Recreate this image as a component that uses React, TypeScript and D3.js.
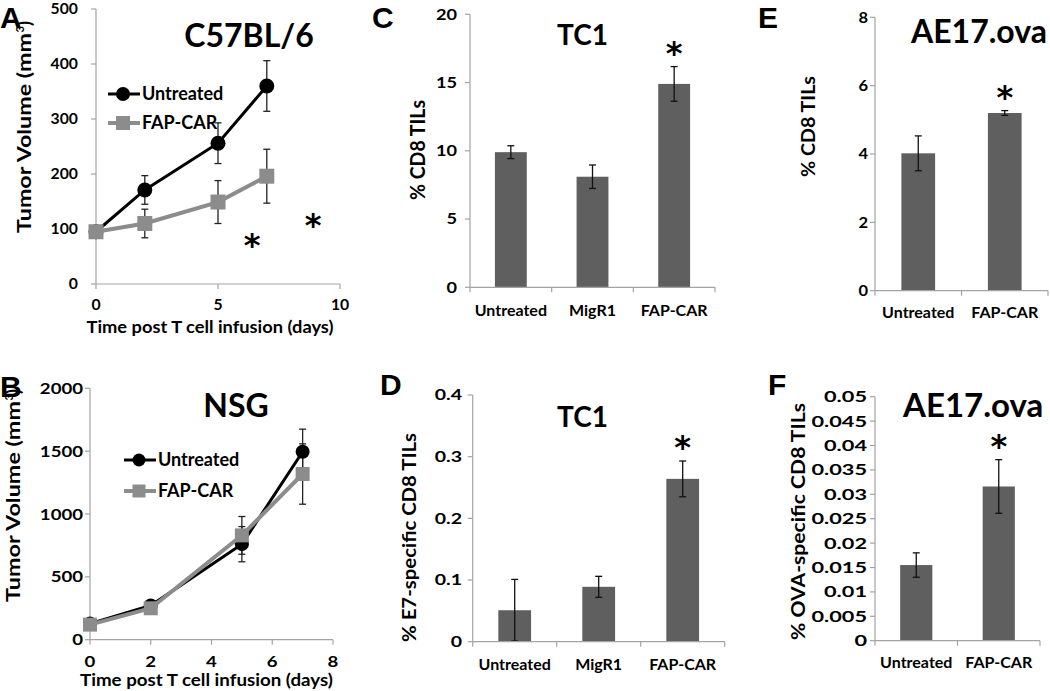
import React from 'react';
import * as d3 from 'd3';

const FONT = "Lato, 'Open Sans', sans-serif";
const BAR_FILL = '#5f5f5f';
const AXIS = '#a3a3a3';
const GRAY = '#8c8c8c';

// ---------- Panel A (C57BL/6) ----------
const aDays = [0, 2, 5, 7];
const aUntreated = [95, 171, 256, 360];
const aUntreatedErr = [4, 26, 37, 46];
const aFapCar = [95, 110, 149, 196];
const aFapCarErr = [4, 26, 39, 49];
const aXTicks = [0, 5, 10];
const aYTicks = [0, 100, 200, 300, 400, 500];

// ---------- Panel B (NSG) ----------
const bDays = [0, 2, 5, 7];
const bUntreated = [128, 272, 760, 1495];
const bUntreatedErr = [20, 25, 140, 180];
const bFapCar = [120, 250, 830, 1318];
const bFapCarErr = [15, 20, 150, 240];
const bXTicks = [0, 2, 4, 6, 8];
const bYTicks = [0, 500, 1000, 1500, 2000];

// ---------- Panel C (TC1, % CD8) ----------
const cGroups = ['Untreated', 'MigR1', 'FAP-CAR'];
const cValues = [9.9, 8.1, 14.9];
const cErr = [0.47, 0.86, 1.27];
const cYTicks = [0, 5, 10, 15, 20];

// ---------- Panel D (TC1, % E7-specific) ----------
const dGroups = ['Untreated', 'MigR1', 'FAP-CAR'];
const dValues = [0.051, 0.089, 0.264];
const dErr = [0.05, 0.017, 0.029];
const dYTicks = [0, 0.1, 0.2, 0.3, 0.4];

// ---------- Panel E (AE17.ova, % CD8) ----------
const eGroups = ['Untreated', 'FAP-CAR'];
const eValues = [4.02, 5.2];
const eErr = [0.51, 0.07];
const eYTicks = [0, 2, 4, 6, 8];

// ---------- Panel F (AE17.ova, % OVA-specific) ----------
const fGroups = ['Untreated', 'FAP-CAR'];
const fValues = [0.0155, 0.0316];
const fErr = [0.0025, 0.0055];
const fYTicks = [0, 0.005, 0.01, 0.015, 0.02, 0.025, 0.03, 0.035, 0.04, 0.045, 0.05];

const fmt = (v: number) => String(+v.toFixed(4));

function TickText({ x, y, anchor, size, sx, children }: any) {
  return (
    <text transform={`translate(${x},${y}) scale(${sx},1)`} textAnchor={anchor} fontSize={size} fontWeight="bold" fontFamily={FONT}>{children}</text>
  );
}

function YAxis({ x, scale, ticks, labelRight, fontSize, sx }: any) {
  const [r0, r1] = scale.range();
  return (
    <g>
      <line x1={x} x2={x} y1={r0} y2={r1} stroke={AXIS} strokeWidth={1.2} />
      {ticks.map((t: number) => (
        <g key={t}>
          <line x1={x - 5} x2={x} y1={scale(t)} y2={scale(t)} stroke={AXIS} strokeWidth={1.2} />
          <TickText x={labelRight} y={scale(t) + fontSize * 0.36} anchor="end" size={fontSize} sx={sx}>{fmt(t)}</TickText>
        </g>
      ))}
    </g>
  );
}

function VTitle({ x, yBottom, len, size, children }: any) {
  return (
    <text transform={`translate(${x},${yBottom}) rotate(-90)`} textAnchor="start" fontSize={size} fontWeight="bold" fontFamily={FONT} textLength={len} lengthAdjust="spacingAndGlyphs">{children}</text>
  );
}

function VolumeTitle({ x, yBottom, len }: any) {
  const main = len - 13;
  const end = yBottom - main;
  return (
    <g fontWeight="bold" fontFamily={FONT}>
      <VTitle x={x} yBottom={yBottom} len={main} size={18}>Tumor Volume (mm</VTitle>
      <text transform={`translate(${x - 7},${end - 0.5}) rotate(-90)`} fontSize={11}>3</text>
      <text transform={`translate(${x},${end - 7}) rotate(-90)`} fontSize={18}>)</text>
    </g>
  );
}

function Marker({ shape, cx, cy, size, color }: any) {
  const sym = d3.symbol().type(shape === 'circle' ? d3.symbolCircle : d3.symbolSquare).size(shape === 'circle' ? Math.PI * (size / 2) * (size / 2) : size * size);
  return <path d={sym() as string} transform={`translate(${cx},${cy})`} fill={color} />;
}

function Star({ x, cy }: any) {
  return <text x={x} y={cy + 13} textAnchor="middle" fontSize={32} fontWeight="bold" fontFamily="'DejaVu Sans', sans-serif">*</text>;
}

function LinePanel(p: any) {
  const x = d3.scaleLinear().domain(p.xDomain).range([p.x0, p.x1]);
  const y = d3.scaleLinear().domain(p.yDomain).range([p.y0, p.y1]);
  const series = [
    { name: 'Untreated', values: p.untreated, err: p.untreatedErr, color: '#000', width: 3, shape: 'circle', size: p.circle },
    { name: 'FAP-CAR', values: p.fap, err: p.fapErr, color: GRAY, width: 4, shape: 'square', size: p.square },
  ];
  const line = d3.line<number>().x((_, i) => x(p.days[i])).y((d) => y(d));
  return (
    <g>
      <YAxis x={p.x0} scale={y} ticks={p.yTicks} labelRight={p.labelRight} fontSize={p.tickSize} sx={p.tickSx} />
      <line x1={p.x0} x2={p.x1} y1={p.y0} y2={p.y0} stroke={AXIS} strokeWidth={1.2} />
      {p.xTicks.map((t: number) => (
        <g key={t}>
          <line x1={x(t)} x2={x(t)} y1={p.y0} y2={p.y0 + 5} stroke={AXIS} strokeWidth={1.2} />
          <TickText x={x(t)} y={p.xTickBase} anchor="middle" size={p.tickSize} sx={p.tickSx}>{t}</TickText>
        </g>
      ))}
      {series.map((s) => s.values.map((v: number, i: number) => (
        <g key={s.name + i} stroke="#222" strokeWidth={1.3}>
          <line x1={x(p.days[i])} x2={x(p.days[i])} y1={y(v - s.err[i])} y2={y(v + s.err[i])} />
          <line x1={x(p.days[i]) - 3.5} x2={x(p.days[i]) + 3.5} y1={y(v - s.err[i])} y2={y(v - s.err[i])} />
          <line x1={x(p.days[i]) - 3.5} x2={x(p.days[i]) + 3.5} y1={y(v + s.err[i])} y2={y(v + s.err[i])} />
        </g>
      )))}
      {series.map((s) => (
        <g key={s.name}>
          <path d={line(s.values) as string} fill="none" stroke={s.color} strokeWidth={s.width} />
          {s.values.map((v: number, i: number) => (
            <Marker key={i} shape={s.shape} cx={x(p.days[i])} cy={y(v)} size={s.size} color={s.color} />
          ))}
        </g>
      ))}
      {series.map((s, i) => (
        <g key={'leg' + s.name}>
          <line x1={p.legX} x2={p.legX + 32} y1={p.legY[i]} y2={p.legY[i]} stroke={s.color} strokeWidth={s.width} />
          <Marker shape={s.shape} cx={p.legX + 15} cy={p.legY[i]} size={s.size - 1} color={s.color} />
          <text x={p.legX + 34} y={p.legY[i] + 6} fontSize={p.legSize} fontWeight="bold" fontFamily={FONT}>{s.name}</text>
        </g>
      ))}
      <text x={(p.x0 + p.x1) / 2 + p.xTitleShift} y={p.xTitleBase} textAnchor="middle" fontSize={17} fontWeight="bold" fontFamily={FONT} textLength={p.xTitleLen} lengthAdjust="spacingAndGlyphs">Time post T cell infusion (days)</text>
      <VolumeTitle x={p.yTitleX} yBottom={p.yTitleBottom} len={p.yTitleLen} />
      <text x={p.titleX} y={p.titleBase} textAnchor="middle" fontSize={p.titleSize} fontWeight="bold" fontFamily={FONT}>{p.title}</text>
    </g>
  );
}

function BarPanel(p: any) {
  const x = d3.scaleBand().domain(p.groups).range([p.x0, p.x1]).paddingInner(0.61).paddingOuter(0.305);
  const y = d3.scaleLinear().domain(p.yDomain).range([p.y0, p.y1]);
  const step = (p.x1 - p.x0) / p.groups.length;
  const last = p.groups[p.groups.length - 1];
  const lastIdx = p.groups.length - 1;
  return (
    <g>
      {p.groups.map((g: string, i: number) => (
        <rect key={g} x={x(g)} y={y(p.values[i])} width={x.bandwidth()} height={p.y0 - y(p.values[i])} fill={BAR_FILL} />
      ))}
      {p.groups.map((g: string, i: number) => {
        const cx = (x(g) as number) + x.bandwidth() / 2;
        const lo = y(p.values[i] - p.err[i]);
        const hi = y(p.values[i] + p.err[i]);
        return (
          <g key={'e' + g} stroke="#111" strokeWidth={1.3}>
            <line x1={cx} x2={cx} y1={lo} y2={hi} />
            <line x1={cx - 3.5} x2={cx + 3.5} y1={lo} y2={lo} />
            <line x1={cx - 3.5} x2={cx + 3.5} y1={hi} y2={hi} />
          </g>
        );
      })}
      <YAxis x={p.x0} scale={y} ticks={p.yTicks} labelRight={p.labelRight} fontSize={p.tickSize} sx={p.tickSx} />
      <line x1={p.x0} x2={p.x1} y1={p.y0} y2={p.y0} stroke={AXIS} strokeWidth={1.2} />
      {d3.range(p.groups.length + 1).map((i: number) => (
        <line key={'t' + i} x1={p.x0 + i * step} x2={p.x0 + i * step} y1={p.y0} y2={p.y0 + 5} stroke={AXIS} strokeWidth={1.2} />
      ))}
      {p.groups.map((g: string) => (
        <text key={'l' + g} x={(x(g) as number) + x.bandwidth() / 2} y={p.catBase} textAnchor="middle" fontSize={16} fontWeight="bold" fontFamily={FONT}>{g}</text>
      ))}
      <Star x={(x(last) as number) + x.bandwidth() / 2} cy={y(p.values[lastIdx] + p.err[lastIdx]) - 16} />
      <VTitle x={p.yTitleX} yBottom={p.yTitleBottom} len={p.yTitleLen} size={p.yTitleSize}>{p.yTitle}</VTitle>
      <text x={p.titleX} y={p.titleBase} textAnchor={p.titleAnchor} fontSize={p.titleSize} fontWeight="bold" fontFamily={FONT}>{p.title}</text>
    </g>
  );
}

function Letter({ x, y, t }: any) {
  return <text x={x} y={y} fontSize={30} fontWeight="bold" fontFamily="'Liberation Sans', Arial, sans-serif">{t}</text>;
}

export default function App() {
  return (
    <svg width={1050} height={691} style={{ position: 'absolute', left: 0, top: 0, background: '#fff' }}>
      <rect width={1050} height={691} fill="#fff" />
      <LinePanel
        days={aDays} untreated={aUntreated} untreatedErr={aUntreatedErr} fap={aFapCar} fapErr={aFapCarErr}
        xDomain={[0, 10]} yDomain={[0, 500]} x0={96} x1={340} y0={284} y1={9}
        xTicks={aXTicks} yTicks={aYTicks} labelRight={78} tickSize={15} tickSx={1.05} xTickBase={310}
        circle={15} square={15} legX={108} legY={[94, 123]} legSize={18}
        xTitleBase={333} xTitleShift={-8} xTitleLen={247} yTitleX={31} yTitleBottom={233} yTitleLen={213}
        title="C57BL/6" titleX={249} titleBase={47} titleSize={32}
      />
      <Star x={252} cy={243} />
      <Star x={313} cy={223} />
      <LinePanel
        days={bDays} untreated={bUntreated} untreatedErr={bUntreatedErr} fap={bFapCar} fapErr={bFapCarErr}
        xDomain={[0, 8]} yDomain={[0, 2000]} x0={90} x1={333} y0={639.7} y1={388.3}
        xTicks={bXTicks} yTicks={bYTicks} labelRight={83} tickSize={15.5} tickSx={1.2} xTickBase={667}
        circle={14} square={14} legX={124} legY={[460, 491]} legSize={18}
        xTitleBase={686} xTitleShift={-5} xTitleLen={253} yTitleX={20} yTitleBottom={602} yTitleLen={214}
        title="NSG" titleX={236} titleBase={417} titleSize={32}
      />
      <BarPanel
        groups={cGroups} values={cValues} err={cErr} yDomain={[0, 20]} yTicks={cYTicks}
        x0={470} x1={715} y0={287.3} y1={14.3} labelRight={457} tickSize={14.5} tickSx={1.25} catBase={316}
        yTitle="% CD8 TILs" yTitleX={425} yTitleBottom={200} yTitleLen={100} yTitleSize={20}
        title="TC1" titleX={582.5} titleBase={45} titleSize={28} titleAnchor="middle"
      />
      <BarPanel
        groups={dGroups} values={dValues} err={dErr} yDomain={[0, 0.4]} yTicks={dYTicks}
        x0={472.7} x1={724.7} y0={641.7} y1={395} labelRight={462} tickSize={14.5} tickSx={1.35} catBase={670}
        yTitle="% E7-specific CD8 TILs" yTitleX={416} yTitleBottom={642} yTitleLen={209} yTitleSize={19}
        title="TC1" titleX={582.5} titleBase={427} titleSize={28} titleAnchor="middle"
      />
      <BarPanel
        groups={eGroups} values={eValues} err={eErr} yDomain={[0, 8]} yTicks={eYTicks}
        x0={875} x1={1048} y0={290.7} y1={17.3} labelRight={868} tickSize={15} tickSx={1.1} catBase={318}
        yTitle="% CD8 TILs" yTitleX={815} yTitleBottom={177} yTitleLen={101} yTitleSize={19}
        title="AE17.ova" titleX={911} titleBase={43} titleSize={32} titleAnchor="start"
      />
      <BarPanel
        groups={fGroups} values={fValues} err={fErr} yDomain={[0, 0.05]} yTicks={fYTicks}
        x0={875} x1={1040} y0={640.7} y1={396.7} labelRight={867} tickSize={15} tickSx={1.45} catBase={668}
        yTitle="% OVA-specific CD8 TILs" yTitleX={805} yTitleBottom={640} yTitleLen={237} yTitleSize={19}
        title="AE17.ova" titleX={903} titleBase={417} titleSize={33} titleAnchor="start"
      />
      <Letter x={0} y={28} t="A" />
      <Letter x={0} y={397} t="B" />
      <Letter x={372} y={28} t="C" />
      <Letter x={380} y={395} t="D" />
      <Letter x={758} y={28} t="E" />
      <Letter x={768} y={395} t="F" />
    </svg>
  );
}
